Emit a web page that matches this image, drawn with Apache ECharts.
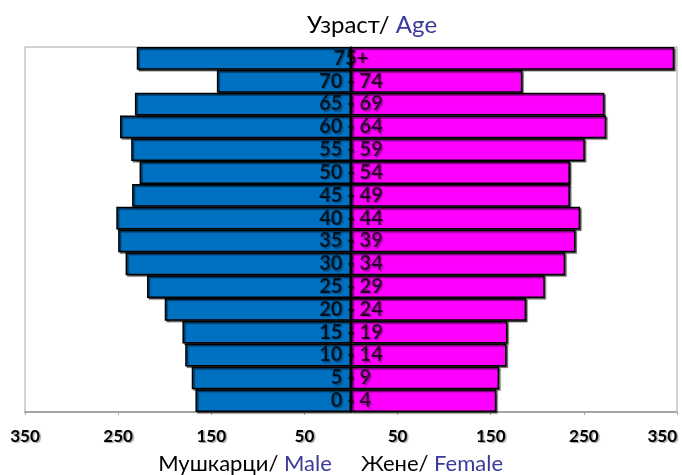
<!DOCTYPE html>
<html>
<head>
<meta charset="utf-8">
<script src="https://cdn.jsdelivr.net/npm/echarts@6/dist/echarts.min.js"></script>
<style>
html,body{margin:0;padding:0;background:#fff;}
#c{width:682px;height:475px;}
</style>
</head>
<body>
<div id="c"></div>
<script>
var ageGroups = ['0 - 4','5 - 9','10 - 14','15 - 19','20 - 24','25 - 29','30 - 34','35 - 39','40 - 44','45 - 49','50 - 54','55 - 59','60 - 64','65 - 69','70 - 74','75+'];
var maleValues = [167,171,178,181,200,219,242,250,252,235,227,236,248,232,144,230];
var femaleValues = [156,159,167,168,188,208,230,241,246,235,235,251,274,272,184,347];
var tickValues = [-350,-250,-150,-50,50,150,250,350];

var chart = echarts.init(document.getElementById('c'), null, {renderer:'canvas'});
var barShadow = {shadowColor:'rgba(0,0,0,0.55)', shadowBlur:1, shadowOffsetX:1.5, shadowOffsetY:1.5};
var txtShadow = {textShadowColor:'rgba(0,0,0,0.35)', textShadowBlur:1, textShadowOffsetX:1.5, textShadowOffsetY:1.5};

chart.setOption({
  animation:false,
  grid:{left:25, right:5, top:47, bottom:63, show:true, borderColor:'#a6a6a6', borderWidth:1, containLabel:false, outerBoundsMode:'none'},
  xAxis:{
    type:'value', min:-350, max:350, interval:50,
    splitLine:{show:false},
    axisLine:{show:true, lineStyle:{color:'#a6a6a6', width:2}},
    axisTick:{show:true, customValues:tickValues, length:3, lineStyle:{color:'#a6a6a6', width:1}},
    axisLabel:Object.assign({
      customValues:tickValues,
      margin:16, hideOverlap:false, alignMaxLabel:'right',
      fontFamily:'Lato', fontWeight:'bold', fontSize:17, color:'#000',
      formatter:function(v){ return (Math.abs(v) % 100 === 50) ? String(Math.abs(v)) : ''; }
    }, txtShadow)
  },
  yAxis:{
    type:'category', data:ageGroups, z:10,
    axisLine:{show:true, onZero:true, lineStyle:{color:'#000', width:1.5}},
    axisTick:{show:false},
    splitLine:{show:false},
    axisLabel:{show:false}
  },
  series:[
    {
      name:'Male', type:'bar', barGap:'-100%', barCategoryGap:'0%',
      data:maleValues.map(function(v){return -v;}),
      itemStyle:Object.assign({color:'#0070C0', borderColor:'#000', borderWidth:1.5}, barShadow)
    },
    {
      name:'Female', type:'bar', barGap:'-100%', barCategoryGap:'0%',
      data:femaleValues,
      itemStyle:Object.assign({color:'#FF00FF', borderColor:'#000', borderWidth:1.5}, barShadow)
    },
    {
      name:'Labels', type:'scatter', z:20, symbolSize:1,
      itemStyle:{color:'rgba(0,0,0,0)'},
      data:ageGroups.map(function(c){return [0, c];}),
      label:Object.assign({
        show:true, position:'inside',
        fontFamily:'Lato', fontWeight:'bold', fontSize:20, color:'#000',
        formatter:function(p){ return p.value[1]; }
      }, txtShadow),
      emphasis:{disabled:true}
    }
  ],
  graphic:[
    {type:'text', x:372, y:25, style:{
      text:'{a|Узраст/ }{b|Age}', align:'center', verticalAlign:'middle', textAlign:'center', textVerticalAlign:'middle',
      rich:{
        a:{fontFamily:'Lato', fontSize:24, fill:'#000', color:'#000'},
        b:{fontFamily:'Lato', fontSize:24, fill:'#3A3A9A', color:'#3A3A9A'}
      }
    }},
    {type:'text', x:245, y:464, style:{
      text:'{a|Мушкарци/ }{b|Male}', align:'center', verticalAlign:'middle', textAlign:'center', textVerticalAlign:'middle',
      rich:{
        a:{fontFamily:'Lato', fontSize:22, fill:'#000', color:'#000'},
        b:{fontFamily:'Lato', fontSize:22, fill:'#3A3A9A', color:'#3A3A9A'}
      }
    }},
    {type:'text', x:432, y:464, style:{
      text:'{a|Жене/ }{b|Female}', align:'center', verticalAlign:'middle', textAlign:'center', textVerticalAlign:'middle',
      rich:{
        a:{fontFamily:'Lato', fontSize:22, fill:'#000', color:'#000'},
        b:{fontFamily:'Lato', fontSize:22, fill:'#3A3A9A', color:'#3A3A9A'}
      }
    }}
  ]
});
</script>
</body>
</html>
